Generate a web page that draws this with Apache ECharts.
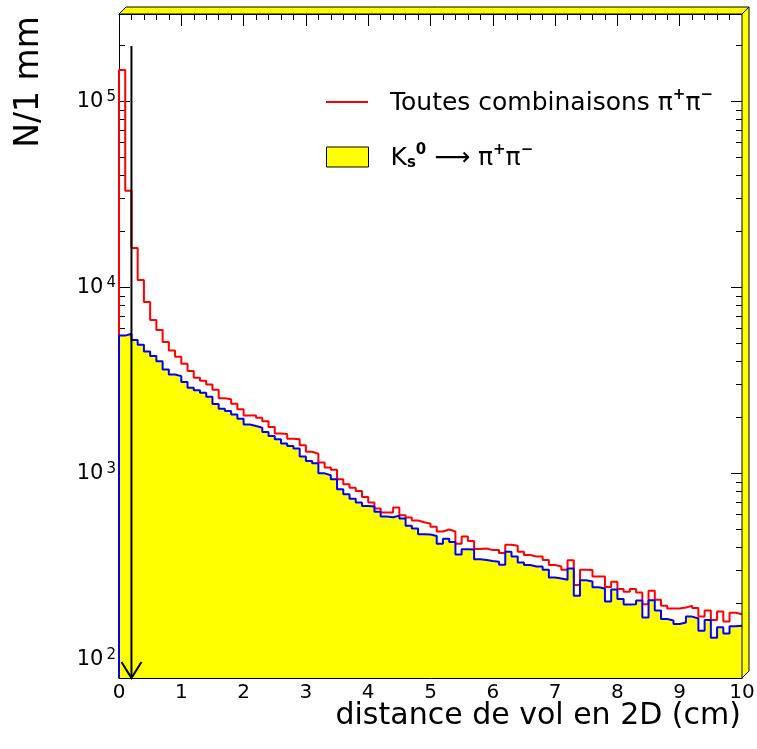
<!DOCTYPE html>
<html><head><meta charset="utf-8">
<script src="https://cdn.jsdelivr.net/npm/echarts@6/dist/echarts.min.js"></script>
<style>html,body{margin:0;padding:0;background:#fff}#c{width:757px;height:749px}</style>
</head><body><div id="c"></div>
<script>
// ---- data ----
const xMin = 0, xMax = 10, binWidth = 0.1;
const yMin = 79, yMax = 294000;
const xTickInterval = 1;
const allCombos = [147000,32900,16200,10900,8300,6650,5880,5070,4560,4220,
 3870,3540,3250,3130,2990,2800,2520,2490,2360,2200,
 2040,2040,1980,1900,1770,1630,1620,1530,1520,1410,
 1300,1270,1140,1070,1040,925,870,834,801,743,
 693,644,613,613,652,592,576,555,543,533,
 514,485,497,485,416,456,431,390,393,385,
 385,371,411,406,377,362,356,356,341,320,
 314,302,340,250,302,301,278,278,244,260,
 238,230,238,228,197,233,208,193,187,187,
 189,193,188,169,182,162,180,159,177,174];
const ksSignal = [5480,5610,5190,4890,4500,4260,3990,3600,3390,3320,
 3090,2870,2790,2700,2570,2350,2215,2153,2066,1958,
 1825,1788,1753,1660,1581,1517,1443,1396,1355,1225,
 1161,1127,996,972,925,818,769,728,693,665,
 660,618,583,578,590,569,520,503,469,467,
 458,416,443,425,365,389,388,344,341,336,
 333,321,377,356,330,320,314,314,302,274,
 271,267,307,219,265,261,243,239,204,236,
 210,196,197,206,167,207,182,164,161,154,
 157,169,165,142,162,130,148,137,150,151];
const yMajorTicks = [100, 1000, 10000, 100000];
const yMajorExponents = ['2', '3', '4', '5'];
const yMinorTicks = [80, 90,
  200, 300, 400, 500, 600, 700, 800, 900,
  2000, 3000, 4000, 5000, 6000, 7000, 8000, 9000,
  20000, 30000, 40000, 50000, 60000, 70000, 80000, 90000,
  200000];
const arrowX = 0.2, arrowTop = 198000;
const nameAll = 'Toutes combinaisons π⁺π⁻';
const nameKs = 'K_s^0 → π⁺π⁻';
const xTitle = 'distance de vol en 2D (cm)';
const yTitle = 'N/1 mm';

const FONT = 'DejaVu Sans';

function stepData(vals) {
  const pts = [[xMin, yMin]];
  for (let i = 0; i < vals.length; i++) pts.push([+(xMin + i * binWidth).toFixed(2), vals[i]]);
  pts.push([xMax, vals[vals.length - 1]]);
  return pts;
}

const chart = echarts.init(document.getElementById('c'), null, {renderer: 'canvas'});

const xAxisCommon = {
  type: 'value', min: xMin, max: xMax, interval: xTickInterval,
  axisLine: {show: true, onZero: false, lineStyle: {color: '#000', width: 1}},
  axisTick: {show: true, inside: true, length: 12, lineStyle: {color: '#000', width: 1}},
  minorTick: {show: true, splitNumber: 5, length: 6, lineStyle: {color: '#000', width: 1}},
  splitLine: {show: false}, minorSplitLine: {show: false}
};
const yAxisCommon = {
  type: 'log', logBase: 10, min: yMin, max: yMax,
  axisLine: {show: true, onZero: false, lineStyle: {color: '#000', width: 1}},
  axisTick: {show: false}, minorTick: {show: false},
  splitLine: {show: false}, minorSplitLine: {show: false}
};

const tickSet = yMajorTicks.concat(yMinorTicks);

const option = {
  backgroundColor: '#ffffff',
  animation: false,
  grid: {left: 119, top: 14, right: 15, bottom: 71, containLabel: false, outerBoundsMode: 'none'},
  xAxis: [
    Object.assign({}, xAxisCommon, {position: 'bottom',
      axisLabel: {show: true, color: '#000', fontFamily: FONT, fontSize: 20, margin: 5,
        formatter: v => String(v)}}),
    Object.assign({}, xAxisCommon, {position: 'top', axisLabel: {show: false}})
  ],
  yAxis: [
    Object.assign({}, yAxisCommon, {position: 'left',
      axisLabel: {show: true, margin: 3, showMinLabel: false, showMaxLabel: false,
        formatter: function (v) {
          for (let i = 0; i < yMajorTicks.length; i++) {
            if (Math.abs(v - yMajorTicks[i]) / yMajorTicks[i] < 1e-6) return '{b|10}{s|' + yMajorExponents[i] + '}';
          }
          return '';
        },
        rich: {
          b: {fontFamily: FONT, fontSize: 21, color: '#000', lineHeight: 22, verticalAlign: 'bottom'},
          s: {fontFamily: FONT, fontSize: 15, color: '#000', lineHeight: 15, verticalAlign: 'top', padding: [0, 0, 13, 3]}
        }}}),
    Object.assign({}, yAxisCommon, {position: 'right', axisLabel: {show: false}})
  ],
  legend: [
    {
      data: [{name: nameAll, icon: 'rect', itemStyle: {color: '#ff0000', borderWidth: 0}}],
      left: 326, top: 88, padding: 0, itemWidth: 42, itemHeight: 2, selectedMode: false,
      formatter: () => '{g| }{t|Toutes combinaisons π}{sp|+}{t|π}{sp|−}',
      textStyle: {rich: {
        g: {width: 17, fontSize: 10},
        t: {fontFamily: FONT, fontSize: 25, color: '#000', lineHeight: 28, verticalAlign: 'bottom'},
        sp: {fontFamily: FONT, fontSize: 15, fontWeight: 'bold', color: '#000', lineHeight: 15, verticalAlign: 'top', padding: [0, 0, 13, 0]}
      }}
    },
    {
      data: [{name: nameKs, icon: 'rect', itemStyle: {color: '#ffff00', borderColor: '#000', borderWidth: 1}}],
      left: 326, top: 143, padding: 0, itemWidth: 42, itemHeight: 20, selectedMode: false,
      formatter: () => '{g| }{t|K}{sb|s}{sp|0}{t| ⟶ π}{sp|+}{t|π}{sp|−}',
      textStyle: {rich: {
        g: {width: 17, fontSize: 10},
        t: {fontFamily: FONT, fontSize: 25, color: '#000', lineHeight: 28, verticalAlign: 'bottom'},
        sp: {fontFamily: FONT, fontSize: 15, fontWeight: 'bold', color: '#000', lineHeight: 15, verticalAlign: 'top', padding: [0, 0, 13, 0]},
        sb: {fontFamily: FONT, fontSize: 15, fontWeight: 'bold', color: '#000', lineHeight: 15, verticalAlign: 'bottom', padding: [10, 0, 0, 0]}
      }}
    }
  ],
  graphic: [
    {type: 'polygon', z: 100, shape: {points: [[119, 14], [126, 7], [749, 7], [742, 14]]},
      style: {fill: '#ffff00', stroke: '#000', lineWidth: 1}},
    {type: 'polygon', z: 100, shape: {points: [[742, 14], [749, 7], [749, 671], [742, 678]]},
      style: {fill: '#ffff00', stroke: '#000', lineWidth: 1}},
    {type: 'text', x: 29, y: 82, rotation: Math.PI / 2, z: 100,
      style: {text: yTitle, fontFamily: FONT, fontSize: 33, fill: '#000', align: 'center', verticalAlign: 'middle'}},
    {type: 'text', x: 741, y: 716, z: 100,
      style: {text: xTitle, fontFamily: FONT, fontSize: 30, fill: '#000', align: 'right', verticalAlign: 'middle'}}
  ],
  series: [
    {
      name: nameAll, type: 'line', step: 'end', data: stepData(allCombos),
      xAxisIndex: 0, yAxisIndex: 0, showSymbol: false, symbol: 'none', clip: false, z: 2,
      color: '#ff0000', lineStyle: {color: '#ff0000', width: 2}
    },
    {
      name: nameKs, type: 'line', step: 'end', data: stepData(ksSignal),
      xAxisIndex: 0, yAxisIndex: 0, showSymbol: false, symbol: 'none', clip: false, z: 3,
      color: '#ffff00', lineStyle: {color: '#0000ff', width: 2},
      areaStyle: {color: '#ffff00', opacity: 1, origin: 'start'}
    },
    {
      name: 'yticks', type: 'custom', xAxisIndex: 0, yAxisIndex: 0, z: 1, silent: true, clip: false,
      data: tickSet.map(v => [xMin, v]), encode: {x: 0, y: 1},
      renderItem: function (params, api) {
        const v = api.value(1);
        const l = api.coord([xMin, v]);
        const r = api.coord([xMax, v]);
        const len = yMajorTicks.indexOf(v) >= 0 ? 11 : 6;
        const y = Math.round(l[1]) + 0.5;
        return {type: 'group', children: [
          {type: 'line', shape: {x1: l[0], y1: y, x2: l[0] + len, y2: y}, style: {stroke: '#000', lineWidth: 1}},
          {type: 'line', shape: {x1: r[0] - len, y1: y, x2: r[0], y2: y}, style: {stroke: '#000', lineWidth: 1}}
        ]};
      }
    },
    {
      name: 'arrow', type: 'custom', xAxisIndex: 0, yAxisIndex: 0, z: 5, silent: true, clip: false,
      data: [[arrowX, arrowTop]], encode: {x: 0, y: 1},
      renderItem: function (params, api) {
        const top = api.coord([api.value(0), api.value(1)]);
        const bot = api.coord([api.value(0), yMin]);
        return {type: 'group', children: [
          {type: 'line', shape: {x1: top[0], y1: top[1], x2: bot[0], y2: bot[1]}, style: {stroke: '#000', lineWidth: 2}},
          {type: 'polyline', shape: {points: [[bot[0] - 10, bot[1] - 16], [bot[0], bot[1]], [bot[0] + 10, bot[1] - 16]]},
            style: {stroke: '#000', lineWidth: 2, fill: null}}
        ]};
      }
    }
  ]
};
chart.setOption(option);
</script>
</body></html>
